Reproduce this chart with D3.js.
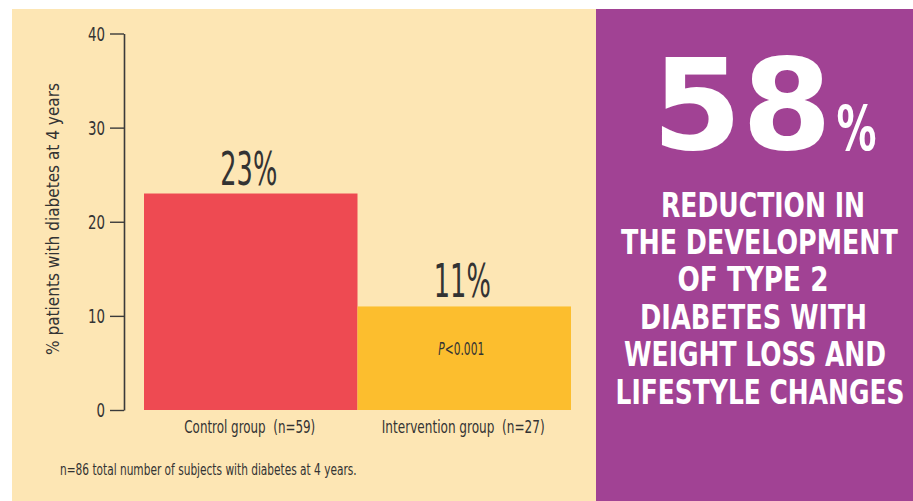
<!DOCTYPE html>
<html><head><meta charset="utf-8">
<script src="https://cdn.jsdelivr.net/npm/d3@7"></script>
<style>
html,body{margin:0;padding:0;background:#fff;}
svg{display:block;}
</style></head>
<body>
<svg id="chart" width="913" height="501"></svg>
<script>
const categories = ["Control group  (n=59)", "Intervention group  (n=27)"];
const values = [23, 11];
const valueLabels = ["23%", "11%"];
const barColors = ["#EE4A52", "#FCBE2E"];
const yTicks = [0, 10, 20, 30, 40];
const yTitle = "% patients with diabetes at 4 years";
const footnote = "n=86 total number of subjects with diabetes at 4 years.";
const pLabel = ["P", "<0.001"];
const bigNumber = "58";
const bigUnit = "%";
const panelLines = ["REDUCTION IN", "THE DEVELOPMENT", "OF TYPE 2", "DIABETES WITH", "WEIGHT LOSS AND", "LIFESTYLE CHANGES"];

const svg = d3.select("#chart");
const COND = "'DejaVu Sans Condensed','DejaVu Sans',sans-serif";
const ink = "#333333";

// place text at (x,y) and squeeze horizontally to a target width
function fit(sel, x, y, w, rot) {
  sel.each(function() {
    const el = d3.select(this);
    const nat = this.getComputedTextLength();
    const s = w / nat;
    el.attr("transform", `translate(${x},${y})` + (rot ? ` rotate(${rot})` : "") + ` scale(${s},1)`);
  });
  return sel;
}

// backgrounds
svg.append("rect").attr("x", 12).attr("y", 9).attr("width", 584).attr("height", 492).attr("fill", "#FDE6B4");
svg.append("rect").attr("x", 596).attr("y", 9).attr("width", 317).attr("height", 492).attr("fill", "#A14294");

const x = d3.scaleBand().domain(categories).range([144, 571]).padding(0);
const y = d3.scaleLinear().domain([0, 40]).range([410, 33.5]);

// axis
const axis = svg.append("g").attr("transform", "translate(124,0)")
  .call(d3.axisLeft(y).tickValues(yTicks).tickSize(14).tickSizeOuter(0).tickPadding(5));
axis.select(".domain").attr("stroke", "#3a3a3a").attr("stroke-width", 1.6);
axis.selectAll(".tick line").attr("stroke", "#3a3a3a").attr("stroke-width", 1.4);
axis.selectAll(".tick text").attr("fill", ink).attr("font-family", COND)
  .attr("font-size", 19).attr("dy", "0.35em").attr("x", null)
  .each(function(d){ fit(d3.select(this), -19, 0, String(d).length * 8.5); });

// bars
svg.append("g").selectAll("rect").data(values).join("rect")
  .attr("x", (d, i) => x(categories[i]))
  .attr("y", d => y(d))
  .attr("width", x.bandwidth())
  .attr("height", d => y(0) - y(d))
  .attr("fill", (d, i) => barColors[i]);

// value labels
svg.append("g").selectAll("text").data(values).join("text")
  .attr("text-anchor", "middle")
  .attr("font-family", COND).attr("font-size", 46).attr("fill", ink)
  .text((d, i) => valueLabels[i])
  .each(function(d, i) { fit(d3.select(this), x(categories[i]) + x.bandwidth() / 2 - 2, y(d) - 9, 57); });

// category labels
const catW = [131, 163];
svg.append("g").selectAll("text").data(categories).join("text")
  .attr("text-anchor", "middle")
  .attr("font-family", COND).attr("font-size", 18).attr("fill", ink)
  .style("white-space", "pre")
  .text(d => d)
  .each(function(d, i) { fit(d3.select(this), x(d) + x.bandwidth() / 2 - 1, 433, catW[i]); });

// P label inside intervention bar
const pt = svg.append("text")
  .attr("text-anchor", "middle")
  .attr("font-family", COND).attr("font-size", 17).attr("fill", ink);
pt.append("tspan").attr("font-style", "italic").text(pLabel[0]);
pt.append("tspan").text(pLabel[1]);
fit(pt, x(categories[1]) + x.bandwidth() / 2 - 3, 355, 46);

// y title
fit(svg.append("text")
  .attr("text-anchor", "middle")
  .attr("font-family", COND).attr("font-size", 18).attr("fill", ink)
  .text(yTitle), 59, 219, 272, -90);

// footnote
fit(svg.append("text")
  .attr("font-family", COND).attr("font-size", 16).attr("fill", ink)
  .text(footnote), 60, 475, 297);

// right panel
fit(svg.append("text")
  .attr("font-family", "'DejaVu Sans',sans-serif").attr("font-weight", "bold").attr("font-size", 126).attr("fill", "#fff")
  .text(bigNumber), 652, 149, 180);
fit(svg.append("text")
  .attr("font-family", "'DejaVu Sans',sans-serif").attr("font-weight", "bold").attr("font-size", 62).attr("fill", "#fff")
  .text(bigUnit), 836.5, 150, 40);

const lineCx = [763, 759.5, 753, 753.5, 755, 760];
const lineW = [204, 277, 151, 227, 262, 289];
const lineBase = [216.5, 254, 291.4, 328.8, 366.2, 403.6];
svg.append("g").selectAll("text").data(panelLines).join("text")
  .attr("text-anchor", "middle")
  .attr("font-family", "'DejaVu Sans Condensed','DejaVu Sans',sans-serif")
  .attr("font-weight", "bold").attr("font-size", 34.5).attr("fill", "#fff")
  .text(d => d)
  .each(function(d, i) { fit(d3.select(this), lineCx[i], lineBase[i], lineW[i]); });
</script>
</body></html>
